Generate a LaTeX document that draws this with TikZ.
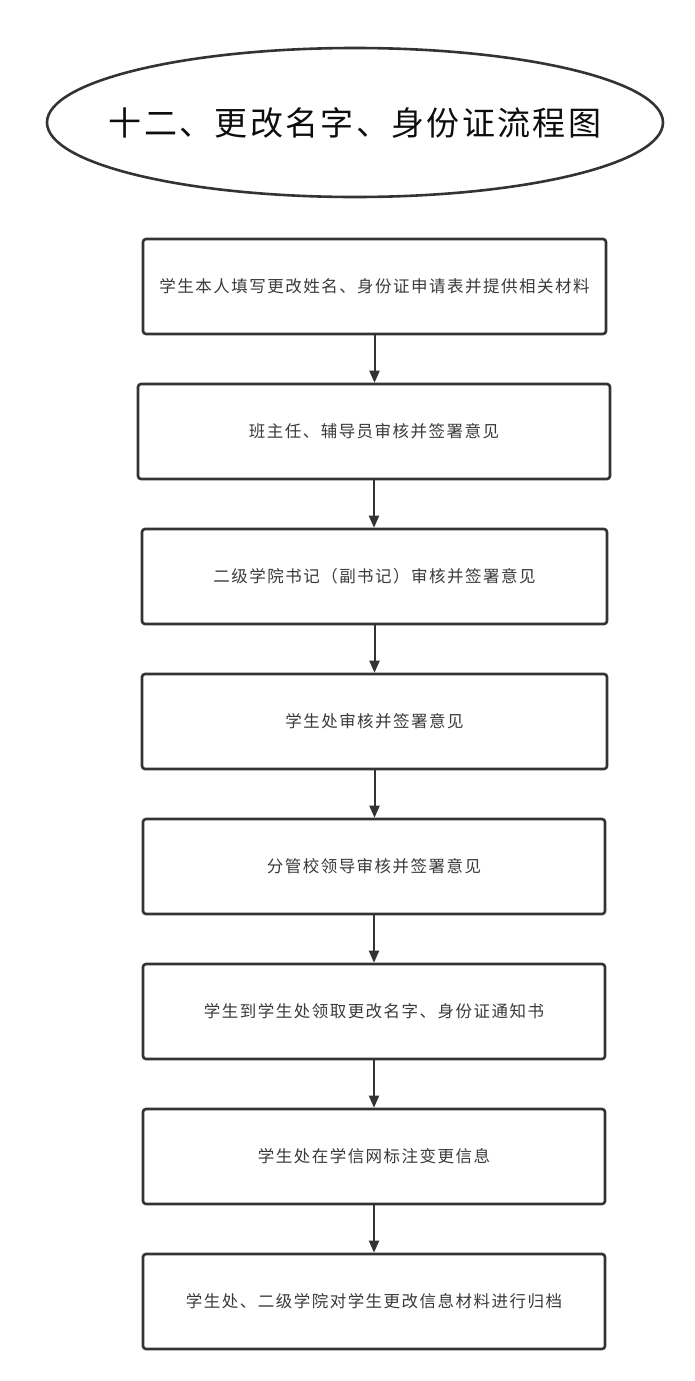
\documentclass[tikz,border=0pt]{standalone}
\usepackage{fontspec}
\usetikzlibrary{arrows.meta,shapes.geometric}
\newfontfamily\boxfont[LetterSpace=9]{Noto Sans CJK SC}
\newfontfamily\titlefont[LetterSpace=7]{Noto Sans CJK SC}
\definecolor{linec}{HTML}{333333}
\definecolor{textc}{HTML}{3A3A3A}
\tikzset{
  stepbox/.style={draw=linec, line width=2.6pt, rounded corners=3pt, minimum height=95pt,
    inner sep=0pt, text=textc, font=\boxfont\fontsize{16.5pt}{18pt}\selectfont},
  arr/.style={draw=linec, line width=2pt, -{Triangle[length=12pt,width=10pt]}},
  titleell/.style={draw=linec, line width=2.6pt, ellipse, minimum width=616pt, minimum height=149pt,
    inner sep=0pt},
  titletxt/.style={inner sep=0pt, text=black!95, font=\titlefont\fontsize{33pt}{36pt}\selectfont}
}
\begin{document}
\begin{tikzpicture}[x=1pt,y=-1pt]
\useasboundingbox (0,0) rectangle (695,1381);
\node[titleell] (title) at (355,122.5) {};
\node[titletxt] (titletext) at (title.center) {十二、更改名字、身份证流程图};
\node[stepbox, minimum width=463pt] (b1) at (374.5,286.5) {学生本人填写更改姓名、身份证申请表并提供相关材料};
\node[stepbox, minimum width=472pt] (b2) at (374,431.5) {班主任、辅导员审核并签署意见};
\node[stepbox, minimum width=465pt] (b3) at (374.5,576.5) {二级学院书记（副书记）审核并签署意见};
\node[stepbox, minimum width=465pt] (b4) at (374.5,721.5) {学生处审核并签署意见};
\node[stepbox, minimum width=462pt] (b5) at (374,866.5) {分管校领导审核并签署意见};
\node[stepbox, minimum width=462pt] (b6) at (374,1011.5) {学生到学生处领取更改名字、身份证通知书};
\node[stepbox, minimum width=462pt] (b7) at (374,1156.5) {学生处在学信网标注变更信息};
\node[stepbox, minimum width=462pt] (b8) at (374,1301.5) {学生处、二级学院对学生更改信息材料进行归档};
\foreach \a/\b in {b1/b2,b2/b3,b3/b4,b4/b5,b5/b6,b6/b7,b7/b8}{
  \draw[arr] (\a.south) -- (\a.south |- \b.north);
}
\end{tikzpicture}
\end{document}
